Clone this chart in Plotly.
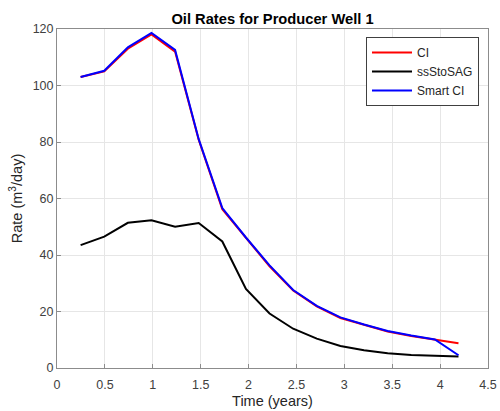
import plotly.graph_objects as go

time_years = [0.2466, 0.4932, 0.7397, 0.9863, 1.2329, 1.4795, 1.7260, 1.9726, 2.2192,
              2.4658, 2.7123, 2.9589, 3.2055, 3.4521, 3.6986, 3.9452, 4.1918]
ci = [103.0, 105.0, 113.0, 118.1, 112.0, 80.8, 56.2, 46.0, 36.0,
      27.4, 21.8, 17.7, 15.2, 12.9, 11.3, 10.0, 8.8]
ss_sto_sag = [43.5, 46.5, 51.4, 52.3, 50.0, 51.3, 44.8, 28.0, 19.3,
              13.9, 10.4, 7.8, 6.3, 5.2, 4.6, 4.4, 4.1]
smart_ci = [103.0, 105.2, 113.5, 118.6, 112.6, 81.0, 56.6, 46.2, 36.3,
            27.6, 22.0, 17.9, 15.4, 13.1, 11.5, 10.1, 4.5]

x_ticks = [0, 0.5, 1, 1.5, 2, 2.5, 3, 3.5, 4, 4.5]
y_ticks = [0, 20, 40, 60, 80, 100, 120]

fig = go.Figure()
fig.add_trace(go.Scatter(x=time_years, y=ci, mode="lines", name="CI",
                         line=dict(color="#FF0000", width=2)))
fig.add_trace(go.Scatter(x=time_years, y=ss_sto_sag, mode="lines", name="ssStoSAG",
                         line=dict(color="#000000", width=2)))
fig.add_trace(go.Scatter(x=time_years, y=smart_ci, mode="lines", name="Smart CI",
                         line=dict(color="#0000FF", width=2)))

axis_common = dict(showgrid=True, gridcolor="#e6e6e6", gridwidth=1,
                   showline=True, linecolor="#8c8c8c", linewidth=1, mirror=True,
                   ticks="inside", ticklen=4, tickcolor="#8c8c8c", automargin=False,
                   zeroline=False, tickfont=dict(size=12.5, color="#404040"))

W, H = 500, 411
fig.update_layout(
    width=W, height=H,
    margin=dict(l=57, r=12, t=29, b=43),
    paper_bgcolor="white", plot_bgcolor="white",
    font=dict(family="Liberation Sans, Arial, sans-serif", color="#262626"),
    title=dict(text="<b>Oil Rates for Producer Well 1</b>", x=272.5 / W, xanchor="center",
               xref="container", yref="container",
               y=1 - 19 / H, yanchor="middle", font=dict(size=14.7, color="#000000")),
    xaxis=dict(range=[0, 4.5], tickvals=x_ticks, ticklabelstandoff=5,
               title=dict(text="Time (years)", font=dict(size=14.5, color="#262626"), standoff=4),
               **axis_common),
    yaxis=dict(range=[0, 120], tickvals=y_ticks,
               title=dict(text="Rate (m<sup>3</sup>/day)", font=dict(size=14.5, color="#262626"), standoff=6),
               **axis_common),
    legend=dict(x=(366 - 57) / 431, y=(368 - 37) / 339, xanchor="left", yanchor="top",
                bgcolor="white", bordercolor="#404040", borderwidth=1,
                font=dict(size=12, color="#262626"), tracegroupgap=0,
                itemwidth=40),
    showlegend=True,
)

fig.write_html("out.html", config={"displayModeBar": False},
               post_script="document.body.style.margin='0';")
